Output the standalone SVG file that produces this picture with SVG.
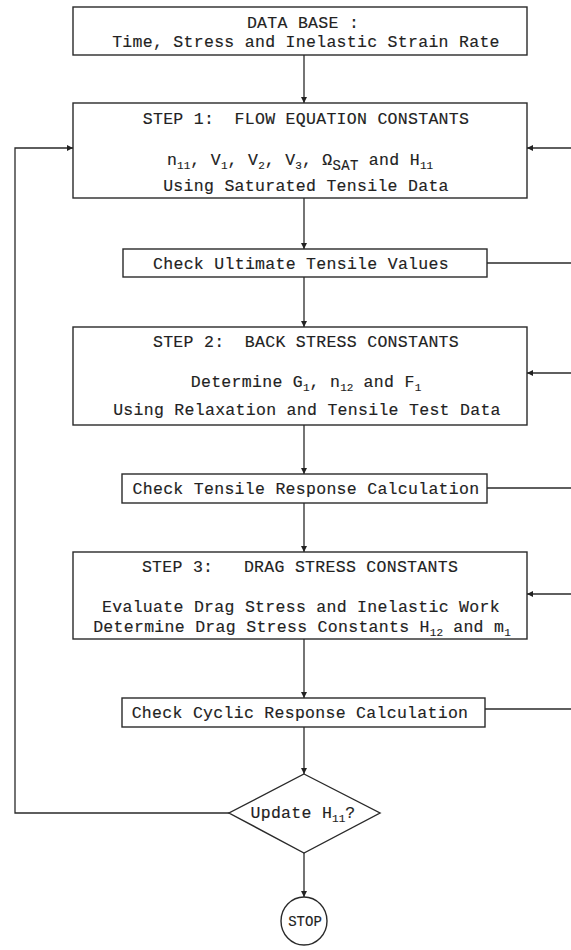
<svg xmlns="http://www.w3.org/2000/svg" width="571" height="950" viewBox="0 0 571 950">
  <style>
    .box { fill: #ffffff; stroke: #2a2a2a; stroke-width: 1.4; }
    .wire { fill: none; stroke: #2a2a2a; stroke-width: 1.3; }
    .t { font-family: "Liberation Mono", "DejaVu Sans Mono", monospace; font-size: 16.5px; letter-spacing: 0.3px; fill: #222222; stroke: #222222; stroke-width: 0.15; text-anchor: middle; }
    .sub { font-size: 11px; letter-spacing: 0px; }
  </style>
  <defs>
    <marker id="arrow" viewBox="0 0 10 10" refX="10" refY="5" markerWidth="8" markerHeight="6" markerUnits="userSpaceOnUse" orient="auto">
      <path d="M0,0 L10,5 L0,10 z" fill="#222222"/>
    </marker>
  </defs>

  <rect width="571" height="950" fill="#ffffff"/>

  <!-- connectors -->
  <g id="connectors">
    <!-- main downward flow -->
    <path class="wire" d="M304,55 V103" marker-end="url(#arrow)"/>
    <path class="wire" d="M304,198 V249" marker-end="url(#arrow)"/>
    <path class="wire" d="M304,277 V327" marker-end="url(#arrow)"/>
    <path class="wire" d="M304,425 V474" marker-end="url(#arrow)"/>
    <path class="wire" d="M304,503 V552" marker-end="url(#arrow)"/>
    <path class="wire" d="M304,639 V698" marker-end="url(#arrow)"/>
    <path class="wire" d="M304,727 V774" marker-end="url(#arrow)"/>
    <path class="wire" d="M304,853 V897" marker-end="url(#arrow)"/>
    <!-- feedback from the decision back to step 1 -->
    <path class="wire" d="M229,813 H15 V148 H73" marker-end="url(#arrow)"/>
    <!-- lines leaving to the right from the checks -->
    <path class="wire" d="M487,263 H571"/>
    <path class="wire" d="M487,488 H571"/>
    <path class="wire" d="M485,709 H571"/>
    <!-- lines entering the steps from the right -->
    <path class="wire" d="M571,148 H527" marker-end="url(#arrow)"/>
    <path class="wire" d="M571,373 H527" marker-end="url(#arrow)"/>
    <path class="wire" d="M571,594 H527" marker-end="url(#arrow)"/>
  </g>

  <g id="database">
    <rect class="box" x="73" y="7" width="454" height="48"/>
    <text class="t" x="303" y="28">DATA BASE :</text>
    <text class="t" x="306" y="47">Time, Stress and Inelastic Strain Rate</text>
  </g>

  <g id="step1">
    <rect class="box" x="73" y="103" width="454" height="95"/>
    <text class="t" x="306" y="124" xml:space="preserve">STEP 1:  FLOW EQUATION CONSTANTS</text>
    <text class="t" x="300" y="165">n<tspan class="sub" dy="4">11</tspan><tspan dy="-4">, V</tspan><tspan class="sub" dy="4">1</tspan><tspan dy="-4">, V</tspan><tspan class="sub" dy="4">2</tspan><tspan dy="-4">, V</tspan><tspan class="sub" dy="4">3</tspan><tspan dy="-4">, Ω</tspan><tspan dy="5" style="font-size:14px">SAT</tspan><tspan dy="-5"> and H</tspan><tspan class="sub" dy="4">11</tspan></text>
    <text class="t" x="306" y="191">Using Saturated Tensile Data</text>
  </g>

  <g id="check-ultimate">
    <rect class="box" x="123" y="249" width="364" height="28"/>
    <text class="t" x="301" y="269">Check Ultimate Tensile Values</text>
  </g>

  <g id="step2">
    <rect class="box" x="73" y="327" width="454" height="98"/>
    <text class="t" x="306" y="347" xml:space="preserve">STEP 2:  BACK STRESS CONSTANTS</text>
    <text class="t" x="306" y="387">Determine G<tspan class="sub" dy="4">1</tspan><tspan dy="-4">, n</tspan><tspan class="sub" dy="4">12</tspan><tspan dy="-4"> and F</tspan><tspan class="sub" dy="4">1</tspan></text>
    <text class="t" x="307" y="415">Using Relaxation and Tensile Test Data</text>
  </g>

  <g id="check-tensile">
    <rect class="box" x="122" y="474" width="365" height="29"/>
    <text class="t" x="306" y="494">Check Tensile Response Calculation</text>
  </g>

  <g id="step3">
    <rect class="box" x="73" y="552" width="454" height="87"/>
    <text class="t" x="300" y="572" xml:space="preserve">STEP 3:   DRAG STRESS CONSTANTS</text>
    <text class="t" x="301" y="612">Evaluate Drag Stress and Inelastic Work</text>
    <text class="t" x="302" y="632">Determine Drag Stress Constants H<tspan class="sub" dy="4">12</tspan><tspan dy="-4"> and m</tspan><tspan class="sub" dy="4">1</tspan></text>
  </g>

  <g id="check-cyclic">
    <rect class="box" x="122" y="698" width="363" height="29"/>
    <text class="t" x="300" y="718">Check Cyclic Response Calculation</text>
  </g>

  <g id="decision">
    <polygon class="box" points="304,774 380,813 304,853 229,813"/>
    <text class="t" x="303" y="818">Update H<tspan class="sub" dy="4">11</tspan><tspan dy="-4">?</tspan></text>
  </g>

  <g id="stop">
    <ellipse class="box" cx="304" cy="921" rx="23" ry="24"/>
    <text class="t" x="305" y="926" style="font-size:14px;letter-spacing:0px">STOP</text>
  </g>
</svg>
